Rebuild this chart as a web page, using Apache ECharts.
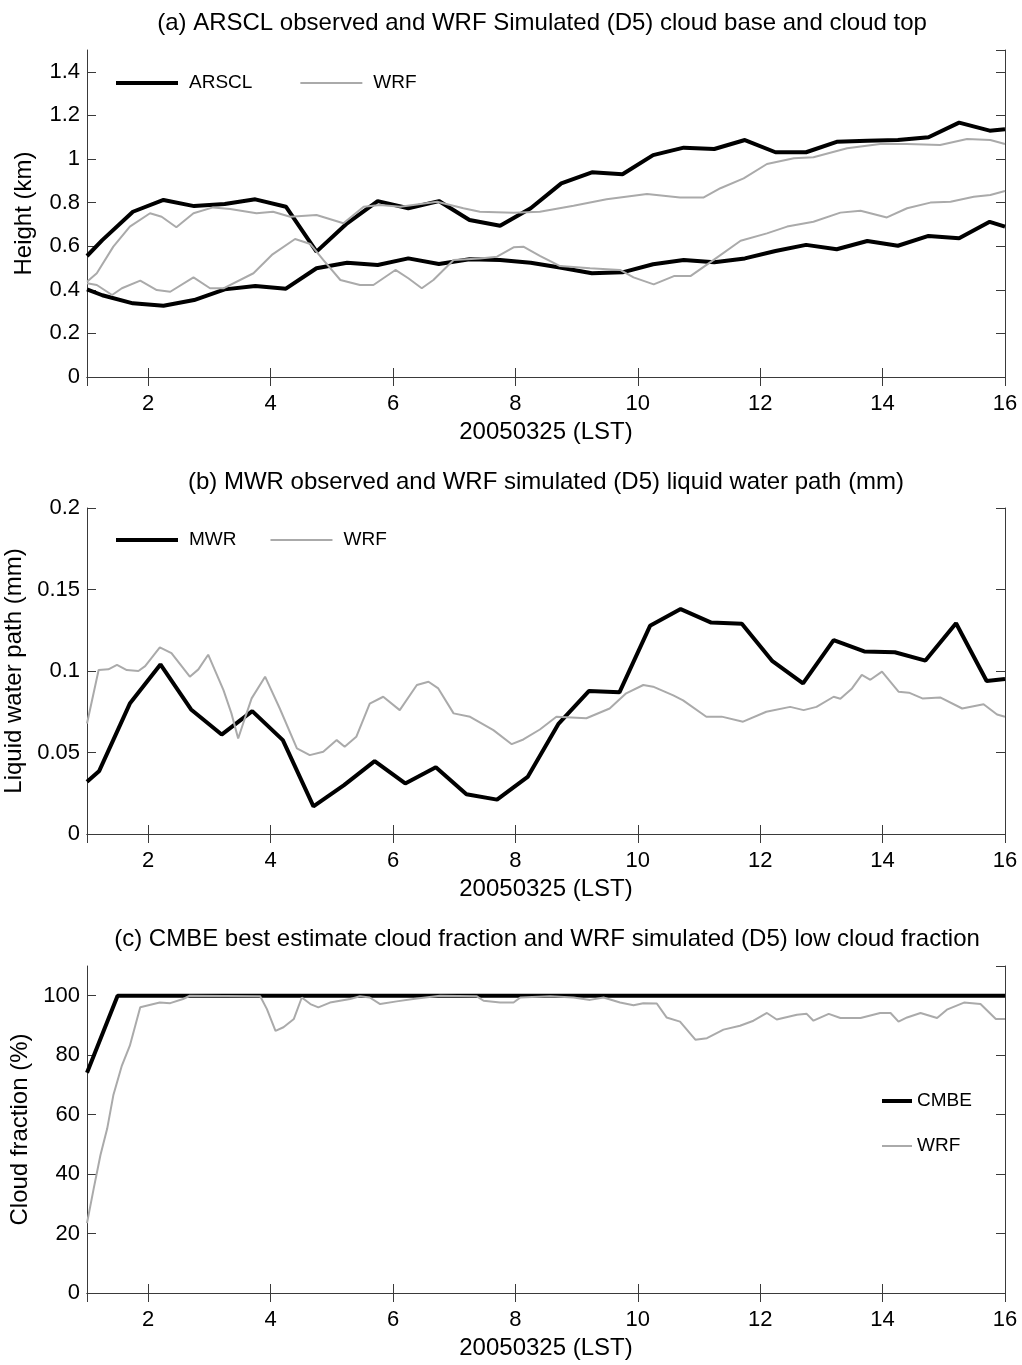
<!DOCTYPE html>
<html>
<head>
<meta charset="utf-8">
<script src="https://cdn.jsdelivr.net/npm/echarts@6/dist/echarts.min.js"></script>
<style>
html,body{margin:0;padding:0;background:#fff;}
#chart{width:1022px;height:1365px;}
</style>
</head>
<body>
<div id="chart"></div>
<script>
// ---------- Panel (a): cloud base / top (km) ----------
const arsclTime = [1, 1.25, 1.75, 2.25, 2.75, 3.25, 3.75, 4.25, 4.75, 5.25, 5.75, 6.25, 6.75, 7.25, 7.75, 8.25, 8.75, 9.25, 9.75, 10.25, 10.75, 11.25, 11.75, 12.25, 12.75, 13.25, 13.75, 14.25, 14.75, 15.25, 15.75, 16];
const arsclTop = [0.555, 0.628, 0.758, 0.812, 0.784, 0.794, 0.815, 0.781, 0.575, 0.705, 0.807, 0.774, 0.807, 0.72, 0.694, 0.774, 0.888, 0.939, 0.930, 1.018, 1.052, 1.046, 1.087, 1.031, 1.031, 1.079, 1.084, 1.087, 1.10, 1.167, 1.13, 1.136];
const arsclBase = [0.402, 0.375, 0.338, 0.327, 0.353, 0.402, 0.417, 0.405, 0.499, 0.524, 0.514, 0.544, 0.518, 0.54, 0.537, 0.524, 0.501, 0.476, 0.48, 0.517, 0.537, 0.526, 0.544, 0.578, 0.606, 0.586, 0.624, 0.602, 0.647, 0.636, 0.712, 0.69];

const wrfTopTime = [1.0, 1.16, 1.43, 1.70, 2.03, 2.22, 2.46, 2.74, 3.06, 3.34, 3.77, 4.04, 4.32, 4.75, 5.19, 5.52, 5.79, 6.12, 6.72, 7.15, 7.42, 7.97, 8.40, 8.95, 9.49, 10.15, 10.69, 11.07, 11.35, 11.73, 12.11, 12.55, 12.87, 13.42, 13.96, 14.40, 14.94, 15.38, 15.76, 16.0];
const wrfTop = [0.437, 0.476, 0.598, 0.690, 0.751, 0.735, 0.687, 0.751, 0.778, 0.771, 0.751, 0.758, 0.735, 0.743, 0.705, 0.781, 0.789, 0.781, 0.804, 0.774, 0.758, 0.754, 0.758, 0.786, 0.815, 0.839, 0.823, 0.823, 0.866, 0.911, 0.977, 1.003, 1.008, 1.049, 1.069, 1.069, 1.064, 1.092, 1.087, 1.069];

const wrfBaseTime = [1.0, 1.16, 1.41, 1.57, 1.87, 2.14, 2.36, 2.74, 3.01, 3.23, 3.72, 4.02, 4.40, 4.65, 4.86, 5.14, 5.46, 5.68, 6.04, 6.25, 6.47, 6.66, 6.99, 7.42, 7.70, 7.97, 8.13, 8.40, 8.73, 9.22, 9.71, 9.93, 10.26, 10.59, 10.86, 11.24, 11.68, 12.11, 12.44, 12.87, 13.31, 13.64, 14.07, 14.40, 14.78, 15.11, 15.49, 15.76, 16.0];
const wrfBase = [0.43, 0.422, 0.376, 0.407, 0.442, 0.399, 0.391, 0.457, 0.407, 0.407, 0.476, 0.56, 0.633, 0.61, 0.537, 0.445, 0.422, 0.422, 0.491, 0.453, 0.407, 0.445, 0.537, 0.544, 0.552, 0.595, 0.598, 0.556, 0.509, 0.499, 0.491, 0.457, 0.425, 0.463, 0.463, 0.537, 0.625, 0.659, 0.690, 0.712, 0.754, 0.763, 0.732, 0.774, 0.800, 0.804, 0.827, 0.835, 0.853];

// ---------- Panel (b): liquid water path (mm) ----------
const mwrTime = [1.0, 1.2, 1.7, 2.2, 2.7, 3.2, 3.7, 4.2, 4.7, 5.2, 5.7, 6.2, 6.7, 7.2, 7.7, 8.2, 8.7, 9.2, 9.7, 10.2, 10.7, 11.2, 11.7, 12.2, 12.7, 13.2, 13.7, 14.2, 14.7, 15.2, 15.7, 16.0];
const mwrLwp = [0.032, 0.0387, 0.080, 0.104, 0.0764, 0.061, 0.0754, 0.0576, 0.017, 0.030, 0.0447, 0.031, 0.041, 0.0244, 0.0211, 0.035, 0.0674, 0.0877, 0.0869, 0.1277, 0.138, 0.1297, 0.129, 0.106, 0.0924, 0.119, 0.112, 0.1115, 0.1064, 0.1293, 0.0939, 0.0951];

const wrfLwpTime = [1.0, 1.19, 1.35, 1.49, 1.65, 1.84, 1.95, 2.19, 2.38, 2.68, 2.82, 2.98, 3.23, 3.36, 3.47, 3.58, 3.69, 3.91, 4.15, 4.43, 4.64, 4.86, 5.08, 5.21, 5.40, 5.62, 5.84, 6.11, 6.39, 6.58, 6.74, 6.99, 7.26, 7.64, 7.94, 8.13, 8.40, 8.67, 9.16, 9.54, 9.81, 10.09, 10.25, 10.58, 10.74, 11.12, 11.37, 11.72, 12.10, 12.49, 12.71, 12.92, 13.20, 13.31, 13.50, 13.66, 13.80, 13.99, 14.26, 14.43, 14.65, 14.94, 15.30, 15.65, 15.87, 16.0];
const wrfLwp = [0.0678, 0.1006, 0.101, 0.1037, 0.1006, 0.100, 0.103, 0.1145, 0.111, 0.0965, 0.101, 0.110, 0.0883, 0.074, 0.0586, 0.071, 0.0832, 0.0965, 0.077, 0.0525, 0.0484, 0.0505, 0.0576, 0.0535, 0.0596, 0.080, 0.0842, 0.076, 0.0914, 0.0934, 0.0893, 0.074, 0.0719, 0.0637, 0.0551, 0.058, 0.0641, 0.0719, 0.071, 0.077, 0.0863, 0.0914, 0.0904, 0.085, 0.082, 0.0719, 0.072, 0.0689, 0.075, 0.078, 0.076, 0.078, 0.0842, 0.083, 0.0893, 0.0976, 0.0946, 0.0996, 0.0873, 0.0867, 0.0832, 0.0838, 0.077, 0.0796, 0.0733, 0.0719];

// ---------- Panel (c): cloud fraction (%) ----------
const cmbeTime = [1.0, 1.5, 16.0];
const cmbeCf = [74.1, 100, 100];

const wrfCfTime = [1.0, 1.11, 1.22, 1.33, 1.43, 1.57, 1.70, 1.87, 1.97, 2.19, 2.36, 2.57, 2.68, 3.83, 3.94, 4.08, 4.21, 4.38, 4.51, 4.65, 4.78, 4.97, 5.30, 5.46, 5.62, 5.79, 6.06, 6.39, 6.77, 7.37, 7.48, 7.75, 7.97, 8.08, 8.57, 8.95, 9.22, 9.44, 9.71, 9.93, 10.09, 10.31, 10.47, 10.69, 10.94, 11.13, 11.40, 11.67, 11.89, 12.11, 12.27, 12.60, 12.76, 12.87, 13.12, 13.31, 13.64, 13.96, 14.13, 14.26, 14.40, 14.62, 14.89, 15.05, 15.33, 15.60, 15.85, 16.0];
const wrfCf = [23.5, 35.2, 46.4, 55.3, 66.5, 76.5, 83.2, 96.1, 96.6, 97.7, 97.5, 98.9, 100, 99.8, 95.5, 88.2, 89.4, 92.2, 99.4, 97.2, 96.1, 97.7, 98.9, 99.8, 99.4, 97.2, 98.1, 99.1, 100, 99.8, 98.3, 97.7, 97.7, 99.4, 99.8, 99.4, 98.6, 99.4, 97.7, 96.8, 97.5, 97.4, 92.7, 91.3, 85.2, 85.7, 88.6, 89.9, 91.6, 94.2, 92.0, 93.6, 93.9, 91.6, 93.9, 92.5, 92.5, 94.2, 94.2, 91.3, 92.7, 94.2, 92.5, 95.3, 97.7, 97.2, 92.2, 92.2];

// ---------- Text ----------
const titles = [
  '(a) ARSCL observed and WRF Simulated (D5) cloud base and cloud top',
  '(b) MWR observed and WRF simulated (D5) liquid water path (mm)',
  '(c) CMBE best estimate cloud fraction and WRF simulated (D5) low cloud fraction'
];
const xName = '20050325 (LST)';
const yNames = ['Height (km)', 'Liquid water path (mm)', 'Cloud fraction (%)'];
const yRanges = [[0, 1.5, 0.2], [0, 0.2, 0.05], [0, 110, 20]];

// ---------- Build ----------
const FONT = '"Liberation Sans", Arial, Helvetica, sans-serif';
const AX = '#3a3a3a';
const BLACK = '#000000';
const GRAY = '#aaaaaa';
const pair = (t, v) => t.map((x, i) => [x, v[i]]);

const grids = [
  {left: 87, right: 17, top: 50, height: 327, outerBoundsMode: 'none', containLabel: false},
  {left: 87, right: 17, top: 508, height: 326, outerBoundsMode: 'none', containLabel: false},
  {left: 87, right: 17, top: 966, height: 327, outerBoundsMode: 'none', containLabel: false}
];
const titleTops = [11, 470, 927];
const titleCenters = [542, 546, 547];
const yNameGaps = [51, 60, 55];

const xAxes = [], yAxes = [];
grids.forEach((g, i) => {
  xAxes.push({
    type: 'value', gridIndex: i, min: 1, max: 16, splitNumber: 8,
    name: xName, nameLocation: 'middle', nameGap: 43,
    nameTextStyle: {fontFamily: FONT, fontSize: 24, color: '#000'},
    axisLine: {lineStyle: {color: AX, width: 1}},
    axisTick: {inside: true, length: 9, lineStyle: {color: AX}},
    axisLabel: {fontFamily: FONT, fontSize: 22, color: '#000', margin: 16, showMinLabel: false},
    splitLine: {show: false}
  });
  xAxes.push({
    type: 'value', gridIndex: i, position: 'top', min: 1, max: 16, splitNumber: 8,
    axisLine: {lineStyle: {color: AX, width: 1}},
    axisTick: {inside: true, length: 9, lineStyle: {color: AX}},
    axisLabel: {show: false}, splitLine: {show: false}
  });
  const r = yRanges[i];
  yAxes.push({
    type: 'value', gridIndex: i, min: r[0], max: r[1], interval: r[2],
    name: yNames[i], nameLocation: 'middle', nameGap: yNameGaps[i],
    nameTextStyle: {fontFamily: FONT, fontSize: 24, color: '#000'},
    axisLine: {show: true, lineStyle: {color: AX, width: 1}},
    axisTick: {show: true, inside: true, length: 9, lineStyle: {color: AX}},
    axisLabel: {fontFamily: FONT, fontSize: 22, color: '#000', margin: 7, showMaxLabel: (i === 1)},
    splitLine: {show: false}
  });
  yAxes.push({
    type: 'value', gridIndex: i, position: 'right', min: r[0], max: r[1], interval: r[2],
    axisLine: {show: true, lineStyle: {color: AX, width: 1}},
    axisTick: {show: true, inside: true, length: 9, lineStyle: {color: AX}},
    axisLabel: {show: false}, splitLine: {show: false}
  });
});

function line(name, xi, yi, data, color, width) {
  return {
    name: name, type: 'line', xAxisIndex: xi, yAxisIndex: yi,
    data: data, symbol: 'none', showSymbol: false, clip: true,
    lineStyle: {color: color, width: width}, itemStyle: {color: color},
    emphasis: {disabled: true}, silent: true
  };
}

const series = [
  line('ARSCL', 0, 0, pair(arsclTime, arsclTop), BLACK, 4),
  line('ARSCL', 0, 0, pair(arsclTime, arsclBase), BLACK, 4),
  line('WRF', 0, 0, pair(wrfTopTime, wrfTop), GRAY, 2),
  line('WRF', 0, 0, pair(wrfBaseTime, wrfBase), GRAY, 2),
  line('MWR', 2, 2, pair(mwrTime, mwrLwp), BLACK, 4),
  line('WRF', 2, 2, pair(wrfLwpTime, wrfLwp), GRAY, 2),
  line('CMBE', 4, 4, pair(cmbeTime, cmbeCf), BLACK, 4),
  line('WRF', 4, 4, pair(wrfCfTime, wrfCf), GRAY, 2)
];

const legendText = {fontFamily: FONT, fontSize: 19, color: '#000', lineHeight: 20};
const legendCommon = {
  itemHeight: 14, selectedMode: false,
  itemStyle: {opacity: 0},
  lineStyle: {width: 'inherit'}
};
const option = {
  animation: false,
  backgroundColor: '#fff',
  title: titles.map((t, i) => ({
    text: t, left: titleCenters[i], textAlign: 'center', top: titleTops[i], padding: 0,
    textStyle: {fontFamily: FONT, fontSize: 24, fontWeight: 'normal', color: '#000'}
  })),
  legend: [
    Object.assign({data: ['ARSCL', 'WRF'], left: 109, top: 68, itemWidth: 62, itemGap: 47,
     textStyle: Object.assign({padding: [0, 0, 0, 6]}, legendText)}, legendCommon),
    Object.assign({data: ['MWR', 'WRF'], left: 109, top: 525, itemWidth: 62, itemGap: 33,
     textStyle: Object.assign({padding: [0, 0, 0, 6]}, legendText)}, legendCommon),
    Object.assign({data: ['CMBE', 'WRF'], orient: 'vertical', left: 875, top: 1086, itemWidth: 30, itemGap: 25,
     textStyle: legendText}, legendCommon)
  ],
  grid: grids,
  xAxis: xAxes,
  yAxis: yAxes,
  series: series
};

const chart = echarts.init(document.getElementById('chart'), null, {renderer: 'canvas'});
chart.setOption(option);
</script>
</body>
</html>
